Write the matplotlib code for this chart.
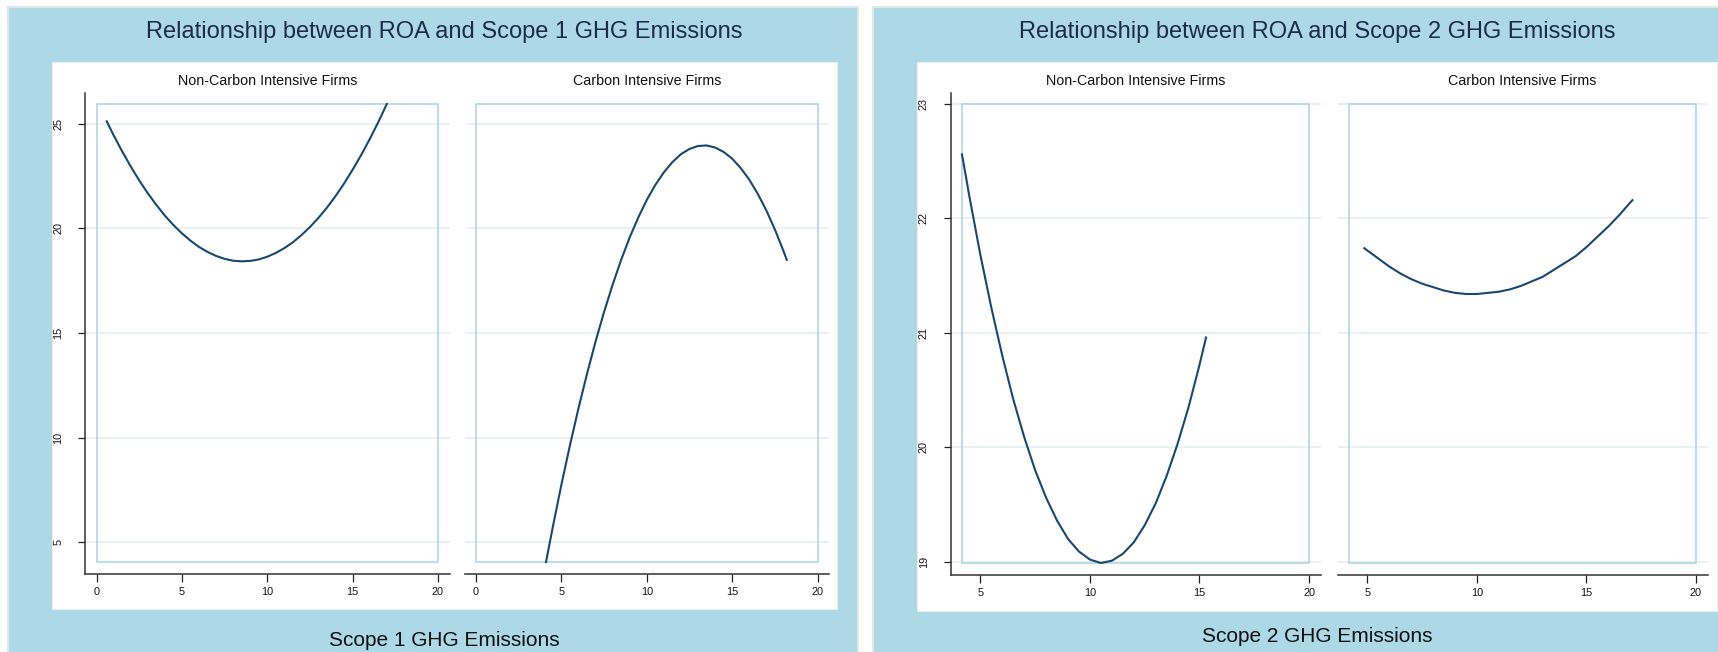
import matplotlib
matplotlib.use("Agg")
import matplotlib.pyplot as plt
from matplotlib.patches import Rectangle

plt.rcParams['font.family'] = ['Liberation Sans', 'DejaVu Sans']

W, H = 1718, 652
BLUE = '#ADD8E6'
NAVY = '#1c2c4c'
LINE = '#1A476F'
GRID = '#E9F0F2'
BOX = '#A9D5E3'

# quadratic fit lines: ROA against Scope 1 emissions
s1_non_x = [0.6, 1.0, 1.5, 2.0, 2.5, 3.0, 3.5, 4.0, 4.5, 5.0, 5.5, 6.0, 6.5, 7.0, 7.5, 8.0, 8.5,
            9.0, 9.5, 10.0, 10.5, 11.0, 11.5, 12.0, 12.5, 13.0, 13.5, 14.0, 14.5, 15.0, 15.5,
            16.0, 16.5, 17.0]
s1_non_y = [25.11, 24.45, 23.68, 22.96, 22.29, 21.68, 21.12, 20.61, 20.16, 19.76, 19.41, 19.11,
            18.87, 18.68, 18.54, 18.45, 18.42, 18.44, 18.51, 18.64, 18.82, 19.05, 19.33, 19.67,
            20.06, 20.50, 20.99, 21.54, 22.14, 22.80, 23.50, 24.26, 25.07, 25.94]

s1_car_x = [4.1, 4.5, 5.0, 5.5, 6.0, 6.5, 7.0, 7.5, 8.0, 8.5, 9.0, 9.5, 10.0, 10.5, 11.0, 11.5,
            12.0, 12.5, 13.0, 13.5, 14.0, 14.5, 15.0, 15.5, 16.0, 16.5, 17.0, 17.5, 18.0, 18.2]
s1_car_y = [4.05, 5.73, 7.74, 9.62, 11.39, 13.04, 14.58, 16.00, 17.30, 18.49, 19.56, 20.51,
            21.35, 22.07, 22.67, 23.16, 23.54, 23.79, 23.93, 23.96, 23.86, 23.65, 23.33, 22.88,
            22.33, 21.65, 20.86, 19.95, 18.93, 18.49]

# quadratic fit lines: ROA against Scope 2 emissions
s2_non_x = [4.16, 4.5, 5.0, 5.5, 6.0, 6.5, 7.0, 7.5, 8.0, 8.5, 9.0, 9.5, 10.0, 10.5, 11.0, 11.5,
            12.0, 12.5, 13.0, 13.5, 14.0, 14.5, 15.0, 15.3]
s2_non_y = [22.56, 22.19, 21.68, 21.22, 20.80, 20.42, 20.09, 19.80, 19.56, 19.36, 19.20, 19.09,
            19.02, 18.99, 19.01, 19.07, 19.17, 19.32, 19.51, 19.75, 20.03, 20.35, 20.72, 20.96]

s2_car_x = [4.86, 5.0, 5.5, 6.0, 6.5, 7.0, 7.5, 8.0, 8.5, 9.0, 9.5, 10.0, 10.5, 11.0, 11.5,
            12.0, 12.5, 13.0, 13.5, 14.0, 14.5, 15.0, 15.5, 16.0, 16.5, 17.0, 17.1]
s2_car_y = [21.74, 21.72, 21.65, 21.58, 21.52, 21.47, 21.43, 21.40, 21.37, 21.35, 21.34, 21.34,
            21.35, 21.36, 21.38, 21.41, 21.45, 21.49, 21.55, 21.61, 21.67, 21.75, 21.84, 21.93,
            22.03, 22.14, 22.16]

s1_xticks = [0, 5, 10, 15, 20]
s1_yticks = [5, 10, 15, 20, 25]
s2_xticks = [5, 10, 15, 20]
s2_yticks = [19, 20, 21, 22, 23]

groups = ["Non-Carbon Intensive Firms", "Carbon Intensive Firms"]

fig = plt.figure(figsize=(W / 100, H / 100), dpi=100)
bg = fig.add_axes([0, 0, 1, 1])
bg.set_xlim(0, W)
bg.set_ylim(H, 0)
bg.axis('off')


def frame(x0, x1, wx0, wx1, wy1, title, xtitle, xtitle_y):
    bg.add_patch(Rectangle((x0, 7), x1 - x0, H, fc=BLUE, ec='#dde6e9', lw=1.5))
    bg.add_patch(Rectangle((wx0, 62), wx1 - wx0, wy1 - 62, fc='white', ec='#e6eef0', lw=0.8))
    cx = (wx0 + wx1) / 2
    bg.text(cx, 32, title, ha='center', va='center', fontsize=17, color=NAVY)
    bg.text(cx, xtitle_y, xtitle, ha='center', va='center', fontsize=15, color='#111111')


def panel(inner, xr, yr, xticks, yticks, x, y, subtitle, show_y, pad=11.5):
    x0, y0, x1, y1 = inner
    ax = fig.add_axes([(x0 - pad) / W, (H - y1 - pad) / H,
                       (x1 - x0 + 2 * pad) / W, (y1 - y0 + 2 * pad) / H])
    sx = (xr[1] - xr[0]) / (x1 - x0)
    sy = (yr[1] - yr[0]) / (y1 - y0)
    ax.set_xlim(xr[0] - pad * sx, xr[1] + pad * sx)
    ax.set_ylim(yr[0] - pad * sy, yr[1] + pad * sy)
    ax.patch.set_alpha(0)
    for v in yticks:
        ax.axhline(v, color=GRID, lw=1.4, zorder=1)
    ax.add_patch(Rectangle((xr[0], yr[0]), xr[1] - xr[0], yr[1] - yr[0],
                           fill=False, ec=BOX, lw=1.1, zorder=2))
    ax.plot(x, y, color=LINE, lw=1.5, zorder=3)

    for side in ('top', 'right'):
        ax.spines[side].set_visible(False)
    ax.spines['bottom'].set_color('#333333')
    ax.spines['bottom'].set_linewidth(1.1)
    ax.set_xticks(xticks)
    ax.tick_params(axis='x', direction='out', length=5.5, width=0.9, color='#222222',
                   labelsize=7.8, labelcolor='#111111', pad=4)
    if show_y:
        ax.spines['left'].set_color('#333333')
        ax.spines['left'].set_linewidth(1.1)
        ax.set_yticks(yticks)
        ax.tick_params(axis='y', direction='out', length=5, width=0.9, color='#222222',
                       labelsize=7.8, labelcolor='#111111', pad=10.5)
        for lab in ax.get_yticklabels():
            lab.set_rotation(90)
            lab.set_va('center')
    else:
        ax.spines['left'].set_visible(False)
        ax.set_yticks([])
    bg.text((x0 + x1) / 2, 81, subtitle, ha='center', va='center', fontsize=10.3, color='#111111')
    return ax


# Scope 1
frame(8, 858, 52, 837, 609, "Relationship between ROA and Scope 1 GHG Emissions",
      "Scope 1 GHG Emissions", 640)
s1_yr = (min(min(s1_non_y), min(s1_car_y)), max(max(s1_non_y), max(s1_car_y)))
panel((96.5, 104, 438, 562), (0, 20), s1_yr, s1_xticks, s1_yticks,
      s1_non_x, s1_non_y, groups[0], True)
panel((476, 104, 817.5, 562), (0, 20), s1_yr, s1_xticks, s1_yticks,
      s1_car_x, s1_car_y, groups[1], False)

# Scope 2
frame(873, 1722, 917, 1717, 611, "Relationship between ROA and Scope 2 GHG Emissions",
      "Scope 2 GHG Emissions", 636)
s2_xr = (min(min(s2_non_x), min(s2_car_x)), 20)
s2_yr = (min(min(s2_non_y), min(s2_car_y)), 23)
panel((962, 104, 1309, 563), s2_xr, s2_yr, s2_xticks, s2_yticks,
      s2_non_x, s2_non_y, groups[0], True)
panel((1349, 104, 1696, 563), s2_xr, s2_yr, s2_xticks, s2_yticks,
      s2_car_x, s2_car_y, groups[1], False)

fig.savefig("out.png", dpi=100)
